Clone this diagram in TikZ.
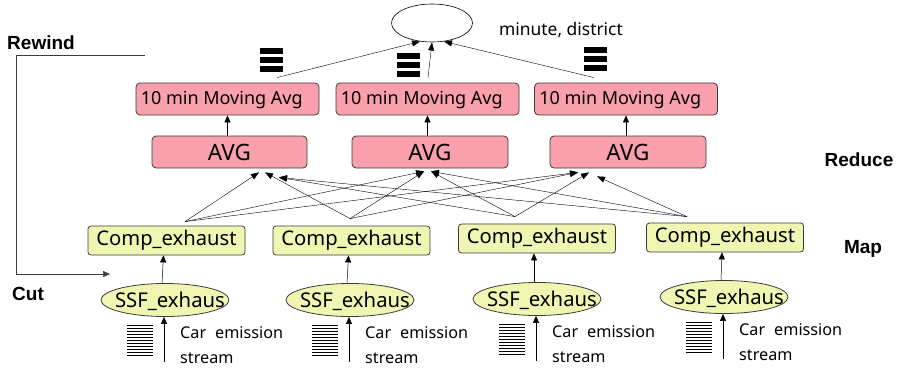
\documentclass[tikz,border=0pt]{standalone}
\usepackage{fontspec}
\setmainfont{Noto Sans}
\newfontfamily\phasefont{Liberation Sans}
\usetikzlibrary{arrows.meta,shapes.geometric,calc}
\definecolor{avgpink}{RGB}{250,160,172}
\definecolor{mapyellow}{RGB}{240,246,178}
\definecolor{edgegray}{RGB}{60,60,60}
\tikzset{
  reducebox/.style={draw=edgegray, fill=avgpink, rounded corners=4pt, line width=0.8pt,
    inner sep=0pt, font=\fontsize{22.5}{22.5}\selectfont},
  movebox/.style={draw=edgegray, fill=avgpink, rounded corners=4pt, line width=0.8pt,
    inner sep=0pt, minimum width=183pt, minimum height=32pt},
  mapbox/.style={draw=edgegray, fill=mapyellow, rounded corners=3pt, line width=0.8pt,
    inner sep=0pt, minimum width=157pt, minimum height=29pt, font=\fontsize{20.2}{20.2}\selectfont},
  srcell/.style={ellipse, draw=edgegray, fill=mapyellow, line width=0.8pt, inner sep=0pt,
    minimum width=128pt, minimum height=33pt},
  flow/.style={-{Triangle[length=7pt,width=6pt]}, line width=0.5pt},
  thinflow/.style={-{Triangle[length=8pt,width=6pt]}, line width=0.4pt},
  phase/.style={font=\phasefont\bfseries\fontsize{19}{19}\selectfont, inner sep=0pt},
  lbl/.style={font=\fontsize{17.4}{17.4}\selectfont, inner sep=0pt},
  mavg/.style={font=\fontsize{18}{18}\selectfont, inner sep=0pt, anchor=west},
  srctext/.style={font=\fontsize{20.3}{20.3}\selectfont, inner sep=0pt},
  streamtext/.style={font=\fontsize{16.2}{25.5}\selectfont, inner sep=0pt, align=left, anchor=north west},
  outstack/.pic={\foreach \k in {0,1,2} \fill (-11.5,\k*9) rectangle (11.5,\k*9+6);},
  instack/.pic={\foreach \k in {0,...,10} \draw[line width=0.9pt] (0,\k*3) -- (26,\k*3);},
}
\begin{document}
\begin{tikzpicture}[x=1pt,y=-1pt]
\useasboundingbox (0,0) rectangle (901,367);
\begin{scope}
\clip (0,0) rectangle (901,363.5);

% result node
\node[draw, ellipse, line width=0.6pt, minimum width=81pt, minimum height=38pt, inner sep=0pt] (sink) at (432,23) {};
\node[lbl] (key) at (561,30) {minute, district};

% reduce stage: moving averages
\node[movebox] (ma1) at (227.5,99) {};
\node[movebox] (ma2) at (427.5,99) {};
\node[movebox] (ma3) at (626,99) {};
\foreach \m in {1,2,3}
  \node[mavg] at ($(ma\m.west)+(5,1.5)$) {10 min Moving Avg};

% reduce stage: averages
\node[reducebox, minimum width=155pt, minimum height=32pt] (avg1) at (229.5,152) {AVG};
\node[reducebox, minimum width=156pt, minimum height=32pt] (avg2) at (430,152) {AVG};
\node[reducebox, minimum width=156pt, minimum height=32pt] (avg3) at (628,152) {AVG};

% map stage
\node[mapbox] (c1) at (166.5,240.5) {Comp\_exhaust};
\node[mapbox] (c2) at (351.5,240.5) {Comp\_exhaust};
\node[mapbox] (c3) at (537,238.5) {Comp\_exhaust};
\node[mapbox] (c4) at (725,237.5) {Comp\_exhaust};

% sources
\node[srcell] (e1) at (165,300) {};
\node[srcell] (e2) at (350,300) {};
\node[srcell] (e3) at (537,299) {};
\node[srcell] (e4) at (724,297) {};
\foreach \s in {1,2,3,4}
  \node[srctext] at ($(e\s.center)+(5,1)$) {SSF\_exhaus};

% stage labels
\node[phase] (rewind) at (41,43) {Rewind};
\node[phase] (cut) at (28,294) {Cut};
\node[phase] (reduce) at (859,160) {Reduce};
\node[phase] (map) at (863,249) {Map};

% output stacks above the moving averages
\pic at (271.5,48) {outstack};
\pic at (408,53) {outstack};
\pic at (595,47) {outstack};

% moving averages into the result
\coordinate (o1) at ($(ma1.north)+(49.5,-5)$);
\coordinate (o2) at ($(ma2.north)+(0.5,-5)$);
\coordinate (o3) at ($(ma3.north)+(-32,-5)$);
\coordinate (s1) at ($(sink.center)+(-12,18.5)$);
\coordinate (s2) at ($(sink.center)+(0,19.5)$);
\coordinate (s3) at ($(sink.center)+(12,18.5)$);
\draw[thinflow] (o1) -- (s1);
\draw[thinflow] (o2) -- (s2);
\draw[thinflow] (o3) -- (s3);

% averages into moving averages
\foreach \m in {1,2,3}
  \draw[flow] (ma\m.south |- avg\m.north) -- (ma\m.south);

% shuffle from map to reduce
\coordinate (m1) at ($(c1.north)+(18.5,-4)$);
\coordinate (m2) at ($(c2.north)+(-1.5,-7)$);
\coordinate (m3) at ($(c3.north)+(-22,-7)$);
\coordinate (m4) at ($(c4.north)+(-38,-6)$);
\coordinate (t1a) at ($(avg1.south)+(29.5,4)$);
\coordinate (t1b) at ($(avg1.south)+(35.5,4)$);
\coordinate (t1c) at ($(avg1.south)+(49.5,9)$);
\coordinate (t2a) at ($(avg2.south)+(-6,3)$);
\coordinate (t2b) at ($(avg2.south)+(1,3)$);
\coordinate (t3a) at ($(avg3.south)+(-50,4)$);
\coordinate (t3b) at ($(avg3.south)+(-39,4)$);
\coordinate (t3c) at ($(avg3.south)+(-31,8)$);
\foreach \a/\b in {m1/t1a, m2/t1b, m3/t1c, m4/t1c,
                   m1/t2a, m2/t2a, m3/t2b, m4/t2b,
                   m1/t3a, m2/t3a, m3/t3b, m4/t3c}
  \draw[thinflow] (\a) -- (\b);

% sources into map
\foreach \s in {1,2,3,4}
  \draw[flow] ([xshift=-3pt]e\s.north) -- ([xshift=-3pt]c\s.south);

% input streams
\foreach \s in {1,2,3,4} {
  \pic at ($(e\s.center)+(-38,25)$) {instack};
  \coordinate (in\s) at ($(e\s.center)+(-1,62)$);
  \draw[flow] (in\s) -- ([xshift=-1pt]e\s.south);
  \node[streamtext] at ($(e\s.center)+(15,26)$) {Car\hskip 9pt emission\\stream};
}

% rewind / cut feedback
\coordinate (rwend) at (145,55);
\coordinate (rwcorner) at (16,55);
\coordinate (cutend) at (110,274);
\draw[flow, draw=edgegray] (rwend) -- (rwcorner) |- (cutend);
\end{scope}
\end{tikzpicture}
\end{document}
